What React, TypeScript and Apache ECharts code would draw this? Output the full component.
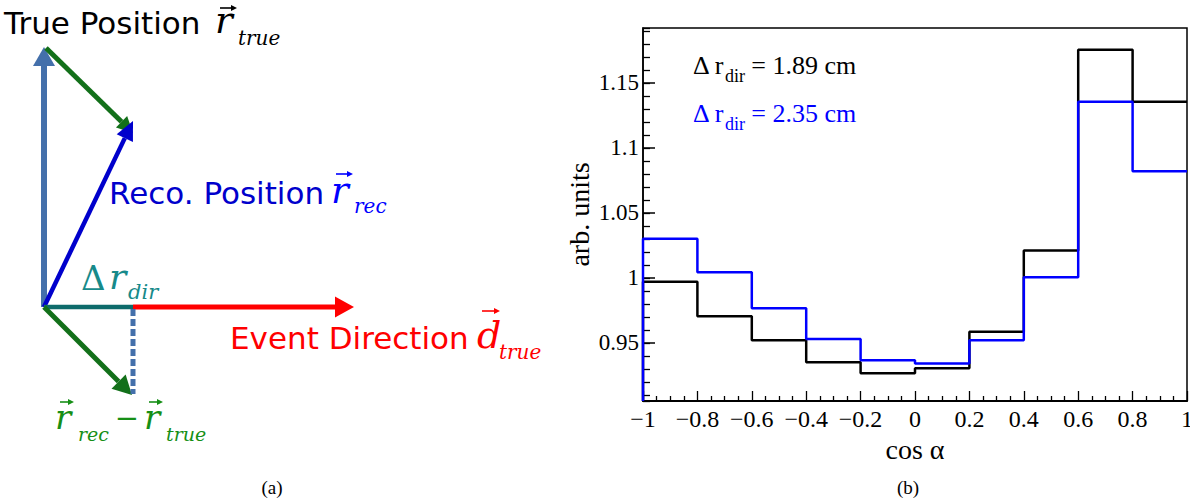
import React, { useEffect, useRef } from "react";
import * as echarts from "echarts";

// ---------- data (panel b) ----------
const binEdges = [-1, -0.8, -0.6, -0.4, -0.2, 0, 0.2, 0.4, 0.6, 0.8];
const binWidth = 0.2;
const blackValues = [0.997, 0.9705, 0.952, 0.935, 0.9265, 0.9305, 0.9585, 1.021, 1.1755, 1.1355];
const blueValues = [1.03, 1.0043, 0.9765, 0.953, 0.9365, 0.934, 0.952, 1.0005, 1.1355, 1.082];
const yMin = 0.9052;
const yMax = 1.1923;
const xMin = -1;
const xMax = 1;
const xTickStep = 0.2;
const seriesLabels = ["1.89 cm", "2.35 cm"];
const seriesColors = ["#000000", "#0000ff"];

// ---------- helpers ----------
function stepPoints(values: number[]) {
  const pts: number[][] = [[binEdges[0], yMin]];
  values.forEach((v, i) => pts.push([binEdges[i], v]));
  const last = values.length - 1;
  pts.push([binEdges[last] + binWidth, values[last]]);
  return pts;
}

function arrow(x1: number, y1: number, x2: number, y2: number, color: string, w: number, hl: number, hw: number, extra: any = {}) {
  const dx = x2 - x1, dy = y2 - y1;
  const len = Math.sqrt(dx * dx + dy * dy);
  const ux = dx / len, uy = dy / len;
  const bx = x2 - ux * hl, by = y2 - uy * hl;
  const px = -uy, py = ux;
  return [
    { type: "line", shape: { x1, y1, x2: bx, y2: by }, style: { stroke: color, lineWidth: w, ...extra } },
    { type: "polygon", shape: { points: [[x2, y2], [bx + px * hw, by + py * hw], [bx - px * hw, by - py * hw]] }, style: { fill: color } },
  ];
}

function vecMark(x1: number, x2: number, y: number, color: string) {
  return [
    { type: "line", shape: { x1, y1: y, x2: x2 - 4, y2: y }, style: { stroke: color, lineWidth: 1.6 } },
    { type: "polygon", shape: { points: [[x2, y], [x2 - 6, y - 3], [x2 - 6, y + 3]] }, style: { fill: color } },
  ];
}

function txt(text: string, x: number, y: number, font: string, fill: string, align = "left") {
  return {
    type: "text",
    style: { text, x, y, font, fill, textAlign: align, textVerticalAlign: "middle", verticalAlign: "middle", align },
  };
}

const SANS = '"DejaVu Sans"';
const SERIF_I = (s: number) => `italic ${s}px "DejaVu Serif"`;

export default function App() {
  const ref = useRef<HTMLDivElement>(null);
  useEffect(() => {
    if (!ref.current) return;
    const chart = echarts.init(ref.current, null, { renderer: "svg" });

    const steel = "#4470ab";
    const green = "#13701a";
    const greenText = "#168f16";
    const teal = "#0e6b6b";
    const tealText = "#178a8a";
    const red = "#ff0000";

    const diagram: any[] = [
      ...arrow(44, 307, 44, 47, steel, 6, 19, 11),
      ...arrow(46, 48, 133, 133, green, 5, 16, 8),
      ...arrow(44, 307, 133, 121, "#0000cc", 4.5, 19, 9),
      { type: "line", shape: { x1: 44, y1: 307, x2: 133, y2: 307 }, style: { stroke: teal, lineWidth: 4.5 } },
      ...arrow(133, 307, 354, 307, red, 5, 19, 10.5),
      ...arrow(44, 307, 132, 395, green, 5, 19, 10),
      { type: "line", shape: { x1: 133, y1: 309, x2: 133, y2: 394 }, style: { stroke: steel, lineWidth: 5, lineDash: [7, 3] } },

      txt("True Position", 4, 22.5, `31px ${SANS}`, "#000"),
      txt("r", 215, 20, SERIF_I(37), "#000"),
      ...vecMark(220, 237, 8, "#000"),
      txt("true", 238, 37.5, SERIF_I(20), "#000"),

      txt("Reco. Position", 109, 192.5, `31px ${SANS}`, "#0000cc"),
      txt("r", 331, 190, SERIF_I(37), "#0000ff"),
      ...vecMark(336, 353, 174, "#0000ff"),
      txt("rec", 354, 205.5, SERIF_I(20), "#0000ff"),

      txt("Δ", 81, 277.5, `34px "DejaVu Serif"`, tealText),
      txt("r", 109, 276.5, SERIF_I(36), tealText),
      txt("dir", 128, 292, SERIF_I(21), tealText),

      txt("Event Direction", 230, 337.5, `31px ${SANS}`, red),
      txt("d", 477, 335, SERIF_I(38), red),
      ...vecMark(482, 500, 311, red),
      txt("true", 499, 351.5, SERIF_I(20), red),

      txt("r", 55, 416.5, SERIF_I(34), greenText),
      ...vecMark(60, 74, 402, greenText),
      txt("rec", 78, 434, SERIF_I(19), greenText),
      txt("−", 127, 418, `29px ${SANS}`, greenText, "center"),
      txt("r", 144, 416.5, SERIF_I(34), greenText),
      ...vecMark(149, 163, 402, greenText),
      txt("true", 166, 434, SERIF_I(19), greenText),

      txt("(a)", 272, 487, `19px "Liberation Serif"`, "#000", "center"),
      txt("(b)", 908, 487, `19px "Liberation Serif"`, "#000", "center"),
    ];

    const annotations = seriesLabels.map((lab, i) => ({
      type: "text",
      style: {
        x: 693,
        y: 65.2 + i * 48,
        text: `{m|Δ r}{s|dir}{m| = ${lab}}`,
        fill: seriesColors[i],
        textVerticalAlign: "middle",
        verticalAlign: "middle",
        rich: {
          m: { fontFamily: "Liberation Serif", fontSize: 26, fill: seriesColors[i], color: seriesColors[i] },
          s: { fontFamily: "Liberation Serif", fontSize: 18, fill: seriesColors[i], color: seriesColors[i], padding: [22, 0, 0, 0] },
        },
      },
    }));

    const serifLabel = { fontFamily: "Liberation Serif", color: "#000" };

    const option: any = {
      animation: false,
      backgroundColor: "#ffffff",
      grid: {
        left: 643, top: 28, width: 544, height: 373,
        show: true, borderColor: "#000", borderWidth: 1.5, backgroundColor: "transparent",
        containLabel: false, outerBoundsMode: "none",
      },
      xAxis: {
        type: "value", min: xMin, max: xMax, interval: xTickStep,
        axisLine: { show: true, onZero: false, lineStyle: { color: "#000", width: 2 } },
        axisTick: { show: true, inside: true, length: 10, lineStyle: { color: "#000", width: 1.3 } },
        minorTick: { show: true, splitNumber: 4, length: 5, lineStyle: { color: "#000", width: 1.3 } },
        splitLine: { show: false },
        minorSplitLine: { show: false },
        axisLabel: {
          ...serifLabel, fontSize: 24, margin: 6,
          formatter: (v: number) => String(Number(v.toFixed(1))).replace("-", "\u2212"),
        },
        name: "cos α", nameLocation: "middle", nameGap: 28,
        nameTextStyle: { ...serifLabel, fontSize: 28 },
      },
      yAxis: [
        {
          type: "value", min: yMin, max: yMax, splitNumber: 6, position: "left",
          axisLine: { show: true, onZero: false, lineStyle: { color: "#000", width: 1.5 } },
          axisTick: { show: true, inside: true, length: 12, lineStyle: { color: "#000", width: 1.5 } },
          splitLine: { show: false },
          axisLabel: {
            ...serifLabel, fontSize: 23, margin: 4, showMinLabel: false, showMaxLabel: false,
            formatter: (v: number) => String(Number(v.toFixed(2))),
          },
          name: "arb. units", nameLocation: "middle", nameGap: 50,
          nameTextStyle: { ...serifLabel, fontSize: 28 },
        },
        {
          type: "value", min: yMin, max: yMax, splitNumber: 28, position: "left",
          axisLine: { show: false, onZero: false },
          axisTick: { show: true, inside: true, length: 7, lineStyle: { color: "#000", width: 1.3 } },
          splitLine: { show: false },
          axisLabel: { show: false },
        },
      ],
      series: [
        {
          type: "line", step: "end", data: stepPoints(blackValues), yAxisIndex: 0,
          showSymbol: false, symbol: "none", lineStyle: { color: seriesColors[0], width: 2.5 }, z: 3,
        },
        {
          type: "line", step: "end", data: stepPoints(blueValues), yAxisIndex: 0,
          showSymbol: false, symbol: "none", lineStyle: { color: seriesColors[1], width: 2.5 }, z: 4,
        },
      ],
      graphic: [...diagram, ...annotations],
    };
    chart.setOption(option);
    return () => chart.dispose();
  }, []);
  return <div ref={ref} style={{ position: "absolute", left: 0, top: 0, width: 1190, height: 503, background: "#fff" }} />;
}
